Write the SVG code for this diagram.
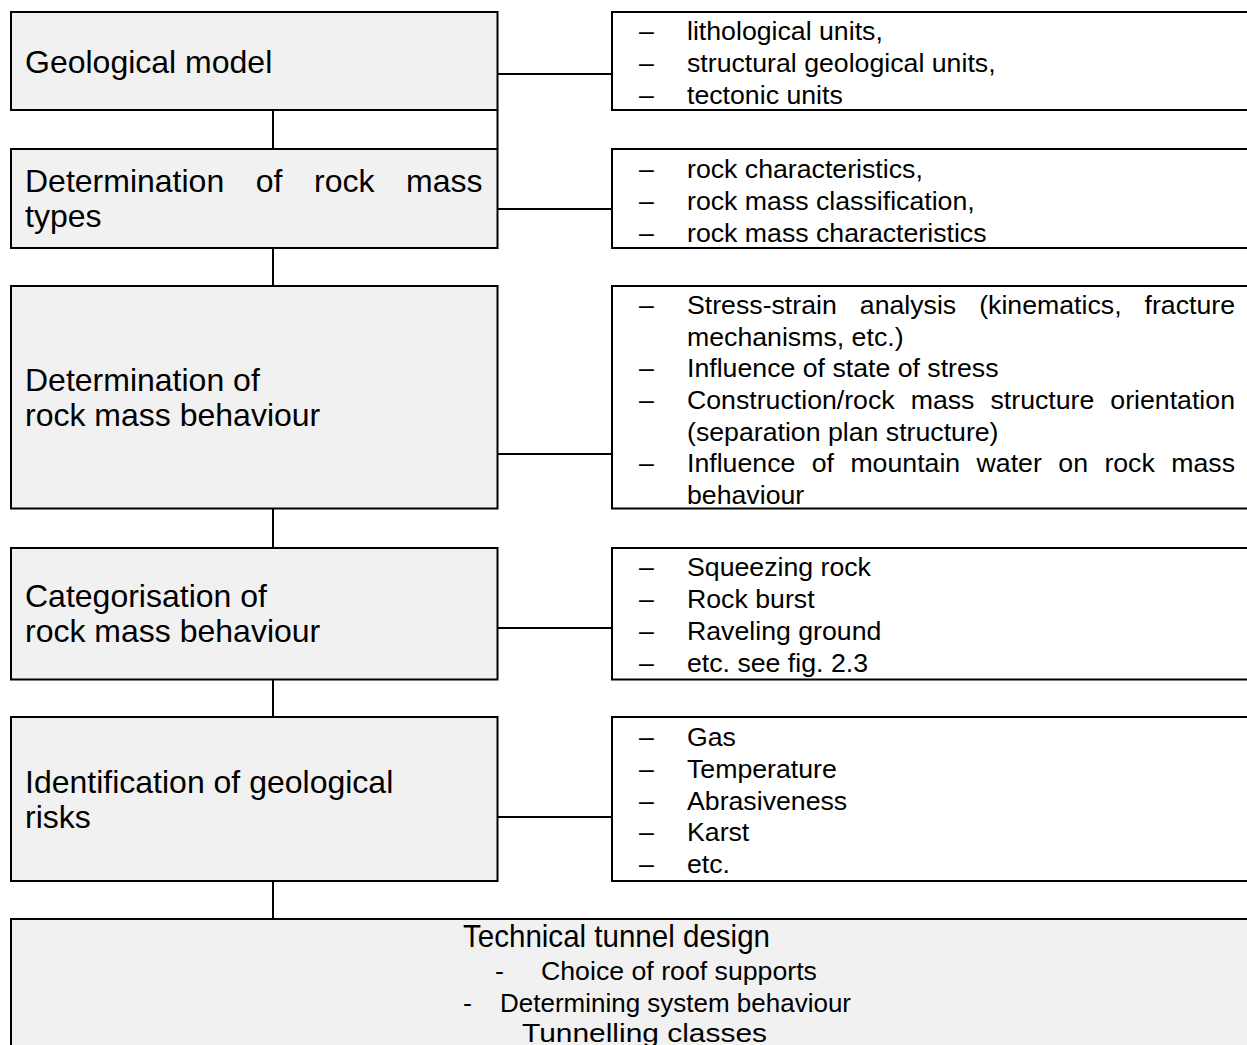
<svg xmlns="http://www.w3.org/2000/svg" width="1247" height="1045" viewBox="0 0 1247 1045">
<style>
.box{fill:#f1f1f1;stroke:#000;stroke-width:2}
.rbox{fill:#fff;stroke:#000;stroke-width:2}
.conn{stroke:#000;stroke-width:2;fill:none}
.lt{font-family:"Liberation Sans",Arial,sans-serif;font-size:32px;fill:#000}
.rt{font-family:"Liberation Sans",Arial,sans-serif;font-size:26.7px;fill:#000}
</style>
<rect width="1247" height="1045" fill="#fff"/>
<g id="connectors">
<path class="conn" d="M273 110 V149 M273 248 V286 M273 508 V548 M273 680 V717 M273 881 V919"/>
<path class="conn" d="M497.5 110 V149"/>
<path class="conn" d="M497.5 74 H612 M497.5 209 H612 M497.5 454 H612 M497.5 628 H612 M497.5 817 H612"/>
</g>
<g id="geological-model">
<rect class="box" x="11" y="12" width="486.5" height="98"/>
<text class="lt" x="25" y="73">Geological model</text>
</g>
<g id="rock-mass-types">
<rect class="box" x="11" y="149" width="486.5" height="99"/>
<text class="lt" y="192"><tspan x="25">Determination</tspan><tspan x="255.8">of</tspan><tspan x="314.1">rock</tspan><tspan x="406.1">mass</tspan></text>
<text class="lt" x="25" y="227">types</text>
</g>
<g id="rock-mass-behaviour">
<rect class="box" x="11" y="286" width="486.5" height="222.5"/>
<text class="lt" x="25" y="391">Determination of</text>
<text class="lt" x="25" y="426">rock mass behaviour</text>
</g>
<g id="categorisation">
<rect class="box" x="11" y="548" width="486.5" height="131.5"/>
<text class="lt" x="25" y="607">Categorisation of</text>
<text class="lt" x="25" y="642">rock mass behaviour</text>
</g>
<g id="geological-risks">
<rect class="box" x="11" y="717" width="486.5" height="164"/>
<text class="lt" x="25" y="793">Identification of geological</text>
<text class="lt" x="25" y="828">risks</text>
</g>
<g id="list-geological-model">
<rect class="rbox" x="612" y="12" width="660" height="98"/>
<text class="rt"><tspan x="639" y="40">–</tspan><tspan x="687" y="40">lithological units,</tspan><tspan x="639" y="72">–</tspan><tspan x="687" y="72">structural geological units,</tspan><tspan x="639" y="104">–</tspan><tspan x="687" y="104">tectonic units</tspan></text>
</g>
<g id="list-rock-mass-types">
<rect class="rbox" x="612" y="149" width="660" height="99"/>
<text class="rt"><tspan x="639" y="178">–</tspan><tspan x="687" y="178">rock characteristics,</tspan><tspan x="639" y="210">–</tspan><tspan x="687" y="210">rock mass classification,</tspan><tspan x="639" y="242">–</tspan><tspan x="687" y="242">rock mass characteristics</tspan></text>
</g>
<g id="list-behaviour">
<rect class="rbox" x="612" y="286" width="660" height="222.5"/>
<text class="rt"><tspan x="639" y="314">–</tspan><tspan x="687" y="314">Stress-strain</tspan><tspan x="859.8" y="314">analysis</tspan><tspan x="979.2" y="314">(kinematics,</tspan><tspan x="1235" y="314" text-anchor="end">fracture</tspan></text>
<text class="rt" x="687" y="345.7">mechanisms, etc.)</text>
<text class="rt"><tspan x="639" y="377.3">–</tspan><tspan x="687" y="377.3">Influence of state of stress</tspan></text>
<text class="rt"><tspan x="639" y="409">–</tspan><tspan x="687" y="409">Construction/rock</tspan><tspan x="910.7" y="409">mass</tspan><tspan x="990.5" y="409">structure</tspan><tspan x="1235" y="409" text-anchor="end">orientation</tspan></text>
<text class="rt" x="687" y="440.7">(separation plan structure)</text>
<text class="rt"><tspan x="639" y="472.3">–</tspan><tspan x="687" y="472.3">Influence</tspan><tspan x="811.7" y="472.3">of</tspan><tspan x="850.4" y="472.3">mountain</tspan><tspan x="976.6" y="472.3">water</tspan><tspan x="1058.3" y="472.3">on</tspan><tspan x="1104.4" y="472.3">rock</tspan><tspan x="1235" y="472.3" text-anchor="end">mass</tspan></text>
<text class="rt" x="687" y="504">behaviour</text>
</g>
<g id="list-categorisation">
<rect class="rbox" x="612" y="548" width="660" height="131.5"/>
<text class="rt"><tspan x="639" y="576">–</tspan><tspan x="687" y="576">Squeezing rock</tspan><tspan x="639" y="608">–</tspan><tspan x="687" y="608">Rock burst</tspan><tspan x="639" y="640">–</tspan><tspan x="687" y="640">Raveling ground</tspan><tspan x="639" y="672">–</tspan><tspan x="687" y="672">etc. see fig. 2.3</tspan></text>
</g>
<g id="list-risks">
<rect class="rbox" x="612" y="717" width="660" height="164"/>
<text class="rt"><tspan x="639" y="746">–</tspan><tspan x="687" y="746">Gas</tspan><tspan x="639" y="778">–</tspan><tspan x="687" y="778">Temperature</tspan><tspan x="639" y="809.7">–</tspan><tspan x="687" y="809.7">Abrasiveness</tspan><tspan x="639" y="841.3">–</tspan><tspan x="687" y="841.3">Karst</tspan><tspan x="639" y="873">–</tspan><tspan x="687" y="873">etc.</tspan></text>
</g>
<g id="technical-tunnel-design">
<rect class="box" x="11" y="919" width="1260" height="160"/>
<text class="lt" x="463" y="947" textLength="307" lengthAdjust="spacingAndGlyphs">Technical tunnel design</text>
<text class="rt"><tspan x="495" y="980">-</tspan><tspan x="541" y="980">Choice of roof supports</tspan></text>
<text class="rt"><tspan x="463" y="1012">-</tspan><tspan x="500" y="1012" textLength="351" lengthAdjust="spacingAndGlyphs">Determining system behaviour</tspan></text>
<text class="rt" x="522" y="1042" textLength="245" lengthAdjust="spacingAndGlyphs">Tunnelling classes</text>
</g>
</svg>
